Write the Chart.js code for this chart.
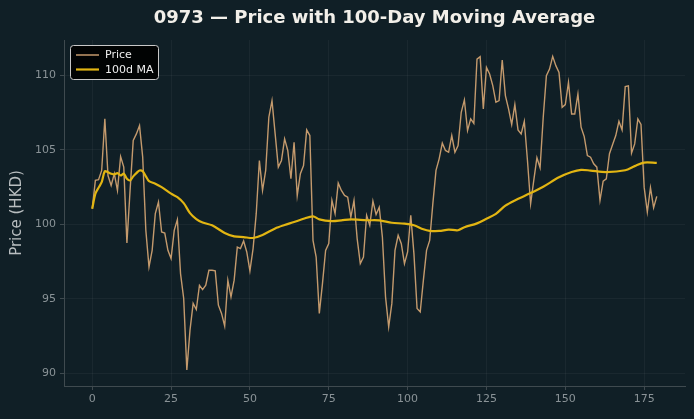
<!DOCTYPE html>
<html>
<head>
<meta charset="utf-8">
<script src="https://cdn.jsdelivr.net/npm/chart.js@4/dist/chart.umd.min.js"></script>
<style>
  html, body { margin: 0; padding: 0; background: #101f26; }
  #wrap { width: 694px; height: 419px; }
</style>
</head>
<body>
<div id="wrap"><canvas id="priceChart" width="694" height="419"></canvas></div>
<script>
// --- DATA ---
const chartTitle = "0973 \u2014 Price with 100-Day Moving Average";
const priceLabel = "Price";
const maLabel = "100d MA";

// daily closing price, day 0..179
const priceValues = [
  101.04, 102.94, 102.99, 103.61, 107.07, 103.27, 102.60, 103.39, 102.27, 104.54,
  103.83, 98.74, 102.27, 105.62, 106.06, 106.62, 104.50, 99.59, 97.14, 98.25,
  100.71, 101.49, 99.48, 99.41, 98.25, 97.70, 99.59, 100.31, 96.69, 95.02,
  90.22, 92.90, 94.69, 94.28, 95.91, 95.62, 95.91, 96.91, 96.91, 96.87,
  94.57, 94.02, 93.17, 96.25, 95.13, 96.25, 98.47, 98.37, 98.88, 98.14,
  96.87, 98.37, 100.71, 104.28, 102.27, 103.61, 107.18, 108.29, 106.06, 103.83,
  104.28, 105.73, 104.95, 103.05, 105.50, 101.93, 103.39, 103.94, 106.33, 105.95,
  98.92, 97.80, 94.02, 96.02, 98.25, 98.70, 101.60, 100.71, 102.76, 102.27,
  101.93, 101.82, 100.48, 101.60, 99.04, 97.36, 97.80, 100.60, 99.93, 101.55,
  100.66, 101.15, 99.14, 95.13, 93.12, 94.69, 98.25, 99.26, 98.70, 97.36,
  98.14, 100.60, 98.03, 94.35, 94.12, 96.25, 98.25, 98.92, 101.38, 103.61,
  104.39, 105.44, 104.95, 104.83, 105.95, 104.83, 105.28, 107.51, 108.34, 106.29,
  107.07, 106.77, 111.08, 111.24, 107.74, 110.52, 110.08, 109.30, 108.18, 108.29,
  111.02, 108.63, 107.74, 106.69, 108.03, 106.33, 106.06, 106.91, 104.28, 101.38,
  102.94, 104.46, 103.79, 107.18, 109.97, 110.41, 111.26, 110.64, 110.19, 107.84,
  108.03, 109.52, 107.40, 107.40, 108.74, 106.51, 105.88, 104.61, 104.50, 104.06,
  103.83, 101.60, 102.89, 103.05, 104.73, 105.35, 105.95, 106.91, 106.33, 109.23,
  109.28, 104.77, 105.39, 107.07, 106.69, 102.49, 100.82, 102.45, 101.11, 101.87
];

// 100-day moving average at these days
const maDays = [
  0, 1, 2, 3, 4, 5, 6, 7, 8, 9, 10, 11, 12, 13, 14, 15, 16, 17, 18, 20,
  22, 25, 27, 29, 31, 33, 35, 38, 42, 45, 48, 51, 54, 58, 61, 64, 67, 70, 72, 76,
  79, 82, 87, 91, 95, 99, 102, 105, 107, 110, 113, 116, 118, 122, 125, 128, 131, 134, 139, 143,
  148, 152, 155, 158, 163, 169, 172, 175, 179
];
const maValues = [
  101.04, 102.05, 102.45, 102.82, 103.56, 103.49, 103.39, 103.34, 103.43, 103.27,
  103.39, 103.05, 102.94, 103.21, 103.43, 103.61, 103.56, 103.21, 102.89, 102.72,
  102.49, 102.05, 101.82, 101.42, 100.75, 100.35, 100.12, 99.93, 99.42, 99.19,
  99.14, 99.08, 99.28, 99.72, 99.95, 100.15, 100.37, 100.53, 100.33, 100.21,
  100.26, 100.33, 100.27, 100.26, 100.10, 100.04, 99.93, 99.66, 99.56, 99.55,
  99.64, 99.60, 99.80, 100.06, 100.37, 100.70, 101.25, 101.60, 102.09, 102.52,
  103.15, 103.50, 103.65, 103.60, 103.50, 103.62, 103.90, 104.14, 104.12
];

const xTicks = [0, 25, 50, 75, 100, 125, 150, 175];
const yTicks = [90, 95, 100, 105, 110];

// --- COLOURS ---
const bgColor = '#101f26';
const priceColor = '#c49a6d';
const maColor = '#e2b512';
const tickText = '#8a9397';
const gridColor = 'rgba(255,255,255,0.045)';
const spineColor = '#3f4a4f';

// background + title + legend drawn on the canvas
const decorPlugin = {
  id: 'decor',
  beforeDraw(chart) {
    const c = chart.ctx;
    c.save();
    c.fillStyle = bgColor;
    c.fillRect(0, 0, chart.width, chart.height);
    c.restore();
  },
  afterDraw(chart) {
    const c = chart.ctx;
    const a = chart.chartArea;
    c.save();
    // title
    c.fillStyle = '#f2efe9';
    c.font = 'bold 18px "DejaVu Sans"';
    c.textAlign = 'center';
    c.textBaseline = 'middle';
    c.fillText(chartTitle, (a.left + a.right) / 2, 18);

    // legend box
    const lx = a.left + 6, ly = a.top + 5, lw = 88, lh = 34;
    c.fillStyle = 'rgba(0,0,0,0.9)';
    c.strokeStyle = '#c8c8c8';
    c.lineWidth = 1;
    c.beginPath();
    c.roundRect(lx + 0.5, ly + 0.5, lw, lh, 3);
    c.fill();
    c.stroke();
    const items = [[priceLabel, priceColor, 1.5], [maLabel, maColor, 2.2]];
    c.font = '11px "DejaVu Sans"';
    c.textAlign = 'left';
    items.forEach((it, k) => {
      const yy = ly + 10 + k * 14.5;
      c.strokeStyle = it[1];
      c.lineWidth = it[2];
      c.beginPath();
      c.moveTo(lx + 6, yy);
      c.lineTo(lx + 29, yy);
      c.stroke();
      c.fillStyle = '#eeeeee';
      c.fillText(it[0], lx + 35, yy + 0.5);
    });
    c.restore();
  }
};

const priceData = priceValues.map((v, i) => ({ x: i, y: v }));
const maData = maDays.map((d, k) => ({ x: d, y: maValues[k] }));

new Chart(document.getElementById('priceChart').getContext('2d'), {
  type: 'line',
  data: {
    datasets: [{
      label: maLabel, data: maData, borderColor: maColor, borderWidth: 2.2,
      pointRadius: 0, tension: 0.3, fill: false
    }, {
      label: priceLabel, data: priceData, borderColor: priceColor, borderWidth: 1.4,
      pointRadius: 0, tension: 0, fill: false
    }]
  },
  options: {
    responsive: false,
    animation: false,
    layout: { padding: { top: 40, right: 9, left: 8, bottom: 0 } },
    plugins: {
      legend: { display: false },
      title: { display: false },
      tooltip: { enabled: false }
    },
    scales: {
      x: {
        type: 'linear',
        min: -8.95, max: 187.95,
        afterFit: s => { s.height = 33; },
        afterBuildTicks: s => { s.ticks = xTicks.map(v => ({ value: v })); },
        grid: { color: gridColor, tickColor: spineColor, tickLength: 4 },
        border: { color: spineColor, width: 1 },
        ticks: { color: tickText, font: { family: 'DejaVu Sans', size: 11 }, padding: 3, maxRotation: 0 }
      },
      y: {
        type: 'linear',
        min: 89.15, max: 112.36,
        afterFit: s => { s.width = 56; },
        afterBuildTicks: s => { s.ticks = yTicks.map(v => ({ value: v })); },
        grid: { color: gridColor, tickColor: spineColor, tickLength: 4 },
        border: { color: spineColor, width: 1 },
        ticks: { color: tickText, font: { family: 'DejaVu Sans', size: 11 }, padding: 4 },
        title: {
          display: true, text: 'Price (HKD)', color: '#b9bec0',
          font: { family: 'DejaVu Sans', size: 15 }, padding: { top: 0, bottom: 4 }
        }
      }
    }
  },
  plugins: [decorPlugin]
});
</script>
</body>
</html>
